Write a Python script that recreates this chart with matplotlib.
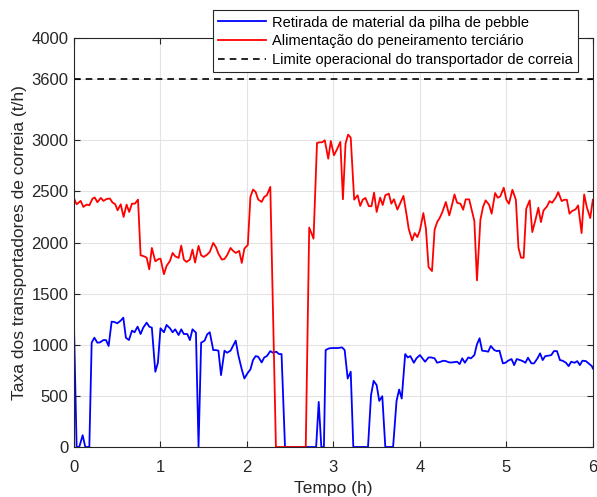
import numpy as np
import matplotlib.pyplot as plt

plt.rcParams['font.family'] = ['Liberation Sans', 'DejaVu Sans']

# Alimentação do peneiramento terciário (red)
t_red = [0.0, 0.03, 0.077, 0.108, 0.146, 0.177, 0.215, 0.24, 0.27, 0.31, 0.34, 0.377, 0.415,
         0.446, 0.477, 0.504, 0.54, 0.573, 0.608, 0.638, 0.67, 0.704, 0.74, 0.77, 0.81, 0.84,
         0.87, 0.90, 0.94, 0.98, 1.0, 1.04, 1.07, 1.11, 1.14, 1.17, 1.21, 1.24, 1.27, 1.30,
         1.34, 1.37, 1.40, 1.44, 1.47, 1.50, 1.54, 1.57, 1.61, 1.64, 1.67, 1.71, 1.74, 1.77,
         1.81, 1.84, 1.87, 1.91, 1.94, 1.97, 2.01, 2.04, 2.07, 2.10, 2.13, 2.17, 2.20, 2.23,
         2.27, 2.335, 2.68, 2.72, 2.77, 2.81, 2.84, 2.87, 2.90, 2.94, 2.97, 3.006, 3.04, 3.08,
         3.11, 3.14, 3.17, 3.20, 3.24, 3.28, 3.31, 3.34, 3.37, 3.41, 3.44, 3.47, 3.50, 3.54,
         3.57, 3.60, 3.64, 3.67, 3.70, 3.74, 3.77, 3.81, 3.85, 3.87, 3.91, 3.94, 3.97, 4.0,
         4.04, 4.07, 4.10, 4.14, 4.17, 4.20, 4.23, 4.26, 4.30, 4.34, 4.37, 4.40, 4.43, 4.47,
         4.50, 4.53, 4.57, 4.60, 4.63, 4.66, 4.70, 4.73, 4.76, 4.80, 4.83, 4.87, 4.90, 4.93,
         4.97, 5.0, 5.03, 5.07, 5.11, 5.14, 5.17, 5.20, 5.23, 5.27, 5.30, 5.34, 5.37, 5.40,
         5.43, 5.47, 5.50, 5.53, 5.57, 5.60, 5.64, 5.67, 5.70, 5.73, 5.76, 5.80, 5.83, 5.87,
         5.90, 5.93, 5.97, 6.0]
v_red = [2430, 2374, 2407, 2348, 2371, 2364, 2430, 2440, 2394, 2436, 2407, 2426, 2430,
         2390, 2374, 2315, 2374, 2250, 2371, 2299, 2380, 2380, 2420, 1875, 1865, 1852,
         1738, 1947, 1816, 1839, 1842, 1690, 1771, 1820, 1898, 1865, 1849, 1970, 1833, 1810,
         1833, 1931, 1804, 1967, 1875, 1859, 1882, 1908, 1996, 1957, 1891, 1833, 1839, 1875,
         1947, 1918, 1898, 1918, 1800, 1940, 1976, 2446, 2518, 2495, 2420, 2397, 2446, 2462,
         2544, 0, 0, 2146, 2038, 2974, 2980, 2980, 3000, 2820, 2993, 2853, 2909, 2984,
         2423, 2967, 3055, 3026, 2420, 2462, 2358, 2420, 2436, 2355, 2355, 2488, 2299, 2439,
         2367, 2462, 2478, 2380, 2423, 2322, 2380, 2456, 2250, 2136, 2021, 2092, 2053, 2118,
         2288, 2135, 1760, 1721, 2125, 2200, 2242, 2298, 2396, 2265, 2363, 2470, 2389, 2379,
         2321, 2422, 2422, 2314, 2210, 1630, 2223, 2347, 2412, 2370, 2282, 2484, 2438, 2451,
         2536, 2418, 2379, 2516, 2418, 1949, 1851, 1851, 2331, 2412, 2102, 2233, 2340, 2200,
         2314, 2353, 2405, 2389, 2438, 2493, 2405, 2418, 2418, 2282, 2308, 2324, 2363, 2092,
         2470, 2347, 2239, 2418]

# Retirada de material da pilha de pebble (blue)
t_blue = [0.0, 0.03, 0.06, 0.10, 0.13, 0.177, 0.204, 0.235, 0.27, 0.30, 0.34, 0.37, 0.40,
          0.435, 0.465, 0.50, 0.54, 0.57, 0.60, 0.635, 0.67, 0.70, 0.735, 0.77, 0.80, 0.84,
          0.87, 0.90, 0.94, 0.97, 1.0, 1.04, 1.07, 1.11, 1.14, 1.17, 1.21, 1.24, 1.27, 1.31,
          1.34, 1.37, 1.41, 1.44, 1.47, 1.51, 1.54, 1.57, 1.61, 1.64, 1.67, 1.70, 1.74, 1.77,
          1.81, 1.84, 1.87, 1.90, 1.94, 1.97, 2.01, 2.04, 2.07, 2.10, 2.13, 2.17, 2.20, 2.23,
          2.27, 2.30, 2.34, 2.37, 2.40, 2.44, 2.80, 2.83, 2.86, 2.89, 2.91, 2.95, 2.99, 3.05,
          3.10, 3.13, 3.165, 3.20, 3.23, 3.40, 3.435, 3.465, 3.50, 3.53, 3.565, 3.60, 3.69,
          3.73, 3.76, 3.79, 3.83, 3.86, 3.89, 3.93, 3.96, 4.0, 4.03, 4.06, 4.10, 4.13, 4.17,
          4.20, 4.24, 4.27, 4.30, 4.34, 4.37, 4.40, 4.43, 4.46, 4.49, 4.52, 4.56, 4.59, 4.63,
          4.66, 4.69, 4.72, 4.76, 4.79, 4.82, 4.86, 4.89, 4.92, 4.96, 4.99, 5.02, 5.06, 5.09,
          5.12, 5.16, 5.19, 5.22, 5.25, 5.29, 5.32, 5.36, 5.39, 5.42, 5.45, 5.485, 5.52, 5.55,
          5.585, 5.62, 5.65, 5.69, 5.72, 5.75, 5.79, 5.82, 5.85, 5.88, 5.92, 5.95, 5.99, 6.0]
v_blue = [1167, 0, 0, 115, 0, 0, 1020, 1069, 1020, 1023, 1046, 1046, 988,
          1226, 1223, 1210, 1236, 1265, 1069, 1046, 1138, 1122, 1177, 1105, 1167, 1216,
          1177, 1167, 736, 824, 1161, 1122, 1194, 1161, 1122, 1151, 1095, 1151, 1105, 1105,
          1046, 1151, 1118, 0, 1020, 1040, 1102, 1122, 948, 948, 942, 703, 942, 922,
          942, 991, 1040, 899, 759, 670, 726, 759, 850, 889, 883, 827, 876, 889,
          938, 922, 932, 909, 909, 0, 0, 441, 0, 0, 948, 965, 968, 968,
          974, 948, 670, 736, 0, 0, 507, 647, 605, 451, 497, 0, 0,
          451, 562, 474, 909, 876, 889, 824, 867, 899, 867, 834, 876, 876, 867,
          824, 834, 844, 840, 827, 827, 830, 834, 811, 867, 824, 876, 867, 899,
          1004, 1063, 942, 938, 932, 988, 948, 938, 942, 818, 824, 844, 860, 801,
          860, 850, 840, 824, 873, 818, 818, 867, 916, 850, 889, 893, 899, 938,
          938, 850, 844, 824, 791, 834, 824, 840, 801, 844, 840, 818, 790, 768]

limite = 3600
y_ticks = [0, 500, 1000, 1500, 2000, 2500, 3000, 3600, 4000]

fig = plt.figure(figsize=(5.97, 4.97), dpi=100)
ax = fig.add_axes([0.124, 0.1006, 0.869, 0.8229])

ax.plot(t_blue, v_blue, color='#0000ff', lw=1.3, label='Retirada de material da pilha de pebble')
ax.plot(t_red, v_red, color='#ff0000', lw=1.3, label='Alimentação do peneiramento terciário')
ax.axhline(limite, color='black', ls=(0, (4, 3)), lw=1.2,
           label='Limite operacional do transportador de correia')

ax.set_xlim(0, 6)
ax.set_ylim(0, 4000)
ax.set_yticks(y_ticks)
ax.set_xticks(range(7))
ax.grid(True, color='#e3e3e3', lw=0.8)
ax.set_axisbelow(True)
ax.tick_params(direction='in', top=True, right=True, labelsize=12, colors='#262626',
               length=4)
ax.tick_params(axis='x', pad=9)
ax.tick_params(axis='y', pad=4)
for s in ax.spines.values():
    s.set_color('#262626')
    s.set_linewidth(0.8)

ax.set_xlabel('Tempo (h)', fontsize=12.5, color='#262626', labelpad=5)
ax.set_ylabel('Taxa dos transportadores de correia (t/h)', fontsize=12.5, color='#262626',
              labelpad=3)

leg = fig.legend(loc='upper right', bbox_to_anchor=(0.968, 0.979), fontsize=10.5,
                 frameon=True, fancybox=False, edgecolor='#262626', framealpha=1,
                 handlelength=3.3, borderpad=0.35, labelspacing=0.32, handletextpad=0.4,
                 borderaxespad=0)
leg.get_frame().set_linewidth(0.8)

plt.savefig('out.png', dpi=100)
